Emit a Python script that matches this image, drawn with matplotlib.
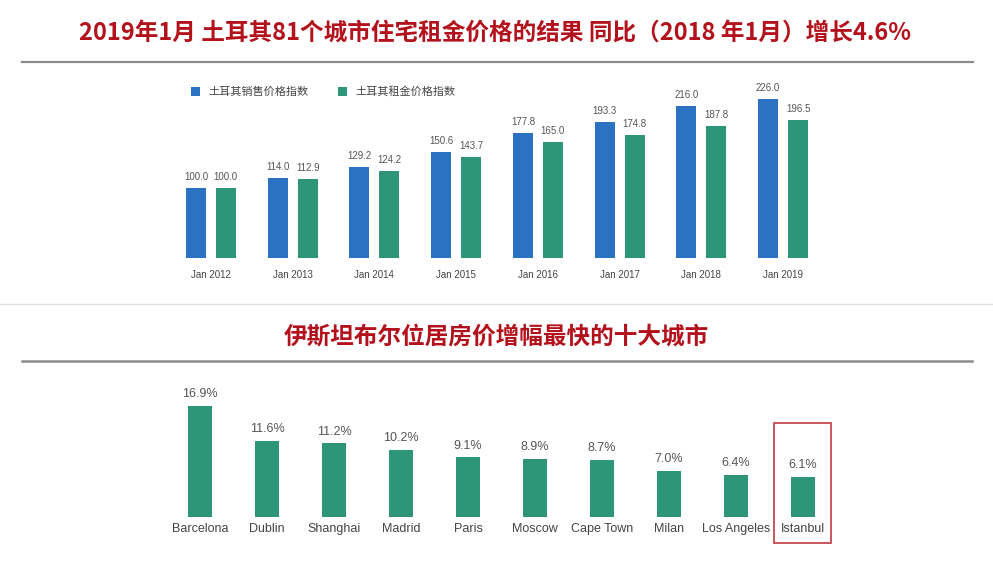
import matplotlib
matplotlib.use("Agg")
import matplotlib.pyplot as plt
from matplotlib.patches import Rectangle, Patch
from matplotlib.lines import Line2D

plt.rcParams['font.family'] = ['Liberation Sans', 'Noto Sans CJK SC', 'DejaVu Sans']

title1 = "2019年1月 土耳其81个城市住宅租金价格的结果 同比（2018 年1月）增长4.6%"
title2 = "伊斯坦布尔位居房价增幅最快的十大城市"

years = ["Jan 2012", "Jan 2013", "Jan 2014", "Jan 2015", "Jan 2016", "Jan 2017", "Jan 2018", "Jan 2019"]
sales_index = [100.0, 114.0, 129.2, 150.6, 177.8, 193.3, 216.0, 226.0]
rent_index = [100.0, 112.9, 124.2, 143.7, 165.0, 174.8, 187.8, 196.5]
series_names = ["土耳其销售价格指数", "土耳其租金价格指数"]

cities = ["Barcelona", "Dublin", "Shanghai", "Madrid", "Paris", "Moscow", "Cape Town", "Milan", "Los Angeles", "Istanbul"]
growth = [16.9, 11.6, 11.2, 10.2, 9.1, 8.9, 8.7, 7.0, 6.4, 6.1]

W, H = 993, 587
fig = plt.figure(figsize=(W / 100, H / 100), dpi=100)
fig.patch.set_facecolor('white')

BLUE = '#2b72c2'
GREEN = '#2e9678'
RED = '#b3121d'
TXT = '#555555'
CJK = ['Noto Sans CJK SC', 'DejaVu Sans']

def fx(px):
    return px / W

def fy(py):
    return 1 - py / H

# Titles and rules
fig.text(fx(495), fy(33), title1, ha='center', va='center', fontsize=17,
         fontweight='bold', color=RED, family=CJK)
fig.add_artist(Line2D([fx(22), fx(973)], [fy(62), fy(62)], color='#8c8c8c', lw=1.6))
fig.add_artist(Line2D([0, 1], [fy(304), fy(304)], color='#dddddd', lw=1.0))
fig.text(fx(496), fy(336), title2, ha='center', va='center', fontsize=17,
         fontweight='bold', color=RED, family=CJK)
fig.add_artist(Line2D([fx(22), fx(972)], [fy(361), fy(361)], color='#8c8c8c', lw=1.8))

# Top chart
left, right, top, bottom = 170, 824, 80, 258
ax1 = fig.add_axes([fx(left), fy(bottom), fx(right - left), (bottom - top) / H])
x = list(range(len(years)))
bw = 0.245
off = 0.183
ax1.bar([i - off for i in x], sales_index, width=bw, color=BLUE)
ax1.bar([i + off for i in x], rent_index, width=bw, color=GREEN)
ax1.set_xlim(-0.5, len(years) - 0.5)
ax1.set_ylim(0, (bottom - top) / 0.704)
for i in x:
    ax1.annotate(f"{sales_index[i]:.1f}", (i - off, sales_index[i]), xytext=(0, 4),
                 textcoords='offset points', ha='center', va='bottom', fontsize=7, color=TXT)
    ax1.annotate(f"{rent_index[i]:.1f}", (i + off, rent_index[i]), xytext=(0, 4),
                 textcoords='offset points', ha='center', va='bottom', fontsize=7, color=TXT)
ax1.set_xticks(x)
ax1.set_xticklabels(years, fontsize=7, color='#444444')
ax1.tick_params(axis='x', length=0, pad=9)
ax1.set_yticks([])
for s in ax1.spines.values():
    s.set_visible(False)
handles = [Patch(facecolor=BLUE), Patch(facecolor=GREEN)]
leg = ax1.legend(handles, series_names, loc='center left', ncol=2, frameon=False,
                 bbox_to_anchor=(fx(181), fy(92)), bbox_transform=fig.transFigure,
                 prop={'family': CJK, 'size': 8}, handlelength=0.8, handleheight=0.8,
                 handletextpad=0.8, columnspacing=2.6, labelcolor='#444444')

# Bottom chart
left2, right2, top2, bottom2 = 166.5, 836.5, 380, 517
ax2 = fig.add_axes([fx(left2), fy(bottom2), fx(right2 - left2), (bottom2 - top2) / H])
x2 = list(range(len(cities)))
ax2.bar(x2, growth, width=0.36, color=GREEN)
ax2.set_xlim(-0.5, len(cities) - 0.5)
ax2.set_ylim(0, (bottom2 - top2) / 6.57)
for i in x2:
    ax2.annotate(f"{growth[i]:.1f}%", (i, growth[i]), xytext=(0, 4),
                 textcoords='offset points', ha='center', va='bottom', fontsize=9, color=TXT)
ax2.set_xticks(x2)
ax2.set_xticklabels(cities, fontsize=9, color='#444444')
ax2.tick_params(axis='x', length=0, pad=4)
ax2.set_yticks([])
for s in ax2.spines.values():
    s.set_visible(False)

# Highlight box around Istanbul
fig.add_artist(Rectangle((fx(774), fy(543)), fx(831 - 774), (543 - 423) / H,
                         fill=False, edgecolor='#c0393f', lw=1.2))

fig.savefig('out.png', dpi=100, facecolor='white')
